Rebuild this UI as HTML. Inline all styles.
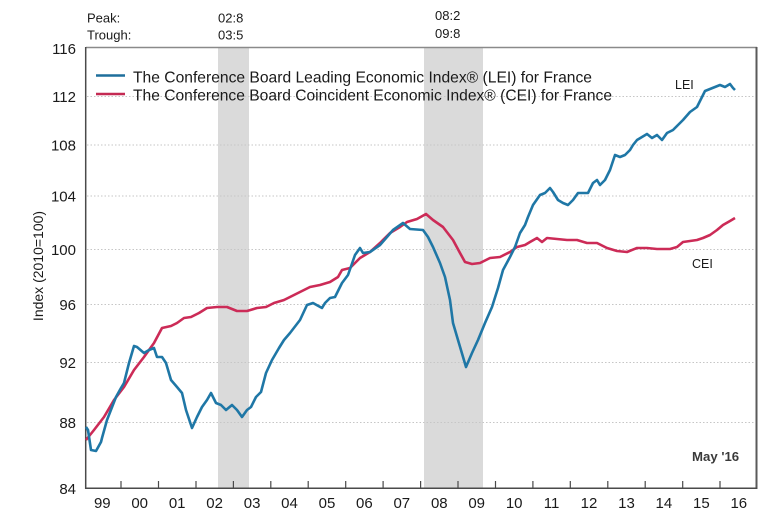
<!DOCTYPE html>
<html>
<head>
<meta charset="utf-8">
<style>
html,body{margin:0;padding:0;background:#fff;}
svg{display:block;font-family:"Liberation Sans",Arial,sans-serif;}
</style>
</head>
<body>
<svg width="784" height="519" viewBox="0 0 784 519" xmlns="http://www.w3.org/2000/svg">
<rect x="0" y="0" width="784" height="519" fill="#fff"/>
<!-- recession shading -->
<rect x="218" y="48" width="31" height="440" fill="#dadada"/>
<rect x="424" y="48" width="59" height="440" fill="#dadada"/>
<!-- gridlines -->
<g stroke="#c6c6c6" stroke-width="1" stroke-dasharray="1.5,2">
<line x1="87" y1="96.5" x2="756" y2="96.5"/>
<line x1="87" y1="145" x2="756" y2="145"/>
<line x1="87" y1="196" x2="756" y2="196"/>
<line x1="87" y1="249.5" x2="756" y2="249.5"/>
<line x1="87" y1="304.5" x2="756" y2="304.5"/>
<line x1="87" y1="362.5" x2="756" y2="362.5"/>
<line x1="87" y1="422.5" x2="756" y2="422.5"/>
</g>
<!-- frame -->
<line x1="86" y1="47.5" x2="757" y2="47.5" stroke="#8a8a8a" stroke-width="1.5"/>
<line x1="756.5" y1="47" x2="756.5" y2="489" stroke="#5a5a5a" stroke-width="2"/>
<line x1="85.7" y1="47" x2="85.7" y2="489" stroke="#4a4a4a" stroke-width="1.5"/>
<line x1="85" y1="488.3" x2="757" y2="488.3" stroke="#4a4a4a" stroke-width="1.5"/>
<!-- x ticks -->
<g stroke="#4a4a4a" stroke-width="1.2">
<line x1="121" y1="481" x2="121" y2="488"/>
<line x1="158.5" y1="481" x2="158.5" y2="488"/>
<line x1="196" y1="481" x2="196" y2="488"/>
<line x1="233.4" y1="481" x2="233.4" y2="488"/>
<line x1="270.8" y1="481" x2="270.8" y2="488"/>
<line x1="308.2" y1="481" x2="308.2" y2="488"/>
<line x1="345.7" y1="481" x2="345.7" y2="488"/>
<line x1="383.1" y1="481" x2="383.1" y2="488"/>
<line x1="420.6" y1="481" x2="420.6" y2="488"/>
<line x1="458" y1="481" x2="458" y2="488"/>
<line x1="495.5" y1="481" x2="495.5" y2="488"/>
<line x1="532.9" y1="481" x2="532.9" y2="488"/>
<line x1="570.3" y1="481" x2="570.3" y2="488"/>
<line x1="607.8" y1="481" x2="607.8" y2="488"/>
<line x1="645.2" y1="481" x2="645.2" y2="488"/>
<line x1="682.7" y1="481" x2="682.7" y2="488"/>
<line x1="720" y1="481" x2="720" y2="488"/>
</g>
<!-- y labels -->
<g font-size="15" fill="#1a1a1a" text-anchor="end">
<text x="76" y="54">116</text>
<text x="76" y="102">112</text>
<text x="76" y="150.5">108</text>
<text x="76" y="201.5">104</text>
<text x="76" y="255">100</text>
<text x="76" y="310">96</text>
<text x="76" y="368">92</text>
<text x="76" y="428">88</text>
<text x="76" y="494">84</text>
</g>
<text transform="translate(43,266) rotate(-90)" font-size="14" fill="#1a1a1a" text-anchor="middle">Index (2010=100)</text>
<!-- x labels -->
<g font-size="15" fill="#1a1a1a" text-anchor="middle">
<text x="102.3" y="508">99</text>
<text x="139.7" y="508">00</text>
<text x="177.2" y="508">01</text>
<text x="214.6" y="508">02</text>
<text x="252.1" y="508">03</text>
<text x="289.5" y="508">04</text>
<text x="327" y="508">05</text>
<text x="364.4" y="508">06</text>
<text x="401.8" y="508">07</text>
<text x="439.3" y="508">08</text>
<text x="476.7" y="508">09</text>
<text x="514.2" y="508">10</text>
<text x="551.6" y="508">11</text>
<text x="589" y="508">12</text>
<text x="626.5" y="508">13</text>
<text x="663.9" y="508">14</text>
<text x="701.4" y="508">15</text>
<text x="738.8" y="508">16</text>
</g>
<!-- peak/trough -->
<g font-size="13" fill="#1a1a1a">
<text x="87" y="22.5">Peak:</text>
<text x="87" y="39.5">Trough:</text>
<text x="218" y="22.5">02:8</text>
<text x="218" y="39.5">03:5</text>
<text x="435" y="20">08:2</text>
<text x="435" y="38">09:8</text>
</g>
<!-- legend -->
<line x1="96" y1="75.5" x2="125" y2="75.5" stroke="#1e6f9c" stroke-width="2.5"/>
<line x1="96" y1="94" x2="125" y2="94" stroke="#c42a53" stroke-width="2.5"/>
<text x="133" y="82.5" font-size="15.6" fill="#1a1a1a" textLength="459" lengthAdjust="spacingAndGlyphs">The Conference Board Leading Economic Index® (LEI) for France</text>
<text x="133" y="100.5" font-size="15.6" fill="#1a1a1a" textLength="479" lengthAdjust="spacingAndGlyphs">The Conference Board Coincident Economic Index® (CEI) for France</text>
<!-- series -->
<polyline fill="none" stroke="#cc2b57" stroke-width="2.6" stroke-linejoin="round" points="86,440 94,430 104,417 114,400 124,387 134,370 144,357 154,343 162,328 171,326 177,323 184,318 191,317 199,313 207,308 217,307 227,307 237,311 247,311 257,308 266,307 274,303 284,300 290,297 300,292 310,287 320,285 330,282 338,277 342,270 350,268 360,258 370,252 380,243 390,233 400,227 407,222 417,219 426,214 433,220 443,227 453,240 460,253 465,262 472,264 480,263 490,258 500,257 510,252 517,247 525,245 530,242 537,238 542,242 547,238 557,239 567,240 577,240 587,243 597,243 607,248 617,251 627,252 637,248 647,248 657,249 670,249 677,247 683,242 690,241 697,240 703,238 710,235 717,230 723,225 730,221 735,218"/>
<polyline fill="none" stroke="#1f77a6" stroke-width="2.6" stroke-linejoin="round" points="86,427 88,430 91,450 96,451 101,442 102,438 107,420 116,397 121,388 124,383 129,363 134,346 137,347 144,353 149,350 154,348 157,357 162,357 166,363 171,380 177,387 182,393 186,410 192,428 197,417 202,407 207,400 211,393 216,403 221,405 226,410 232,405 237,410 242,417 247,410 251,407 256,397 261,392 266,373 272,360 279,348 284,340 290,333 300,320 307,305 313,303 322,308 325,303 330,298 335,297 342,283 348,275 355,255 360,248 363,253 370,252 380,245 387,237 393,230 403,223 410,229 423,230 428,237 433,247 440,263 445,277 450,300 453,323 458,340 466,367 472,353 478,340 485,323 492,307 498,288 503,270 510,257 515,247 520,233 525,225 528,217 533,205 540,195 545,193 550,188 553,192 558,200 563,203 568,205 573,200 578,193 583,193 588,193 593,183 597,180 600,185 605,180 610,170 615,155 620,157 625,155 630,150 633,145 637,140 642,137 647,134 652,138 657,135 662,140 667,133 673,130 678,125 683,120 690,112 697,107 702,97 705,91 710,89 715,87 720,85 725,87 730,84 733,88 735,90"/>
<!-- series labels -->
<text x="675" y="89" font-size="12.5" fill="#1a1a1a">LEI</text>
<text x="692" y="268" font-size="12.5" fill="#1a1a1a">CEI</text>
<text x="692" y="461" font-size="13.2" font-weight="bold" fill="#3a3a3a">May '16</text>
</svg>
</body>
</html>
